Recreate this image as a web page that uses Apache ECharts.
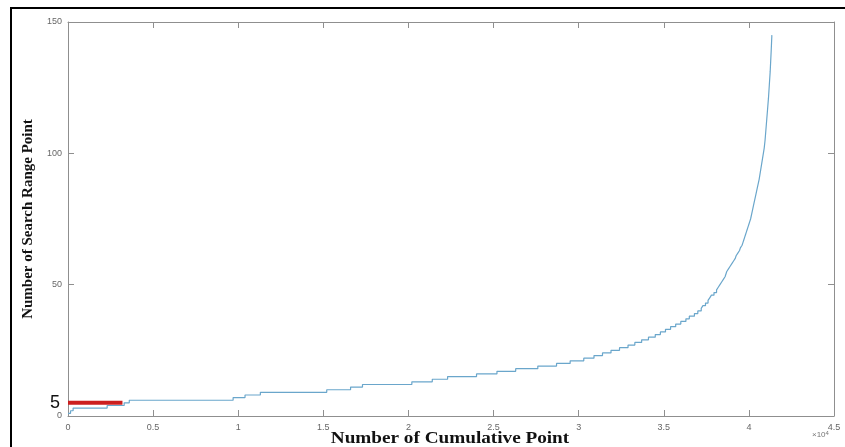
<!DOCTYPE html>
<html>
<head>
<meta charset="utf-8">
<script src="https://cdn.jsdelivr.net/npm/echarts@6/dist/echarts.min.js"></script>
<style>
  html, body { margin: 0; padding: 0; background: #fff; }
  #chart { width: 845px; height: 447px; }
</style>
</head>
<body>
<div id="chart"></div>
<script>
// cumulative point count (raw) where the search range steps up
const cumPoints = [0, 150, 300, 2300, 3300, 3600, 9700, 10400, 11300, 15200, 16600, 17300,
  20200, 21400, 22300, 24000, 25200, 26300, 27600, 28700, 29500, 30300, 30900, 31400,
  31900, 32400, 32900, 33300, 33700, 34100, 34500, 34800, 35100, 35400, 35700, 36000,
  36300, 36500, 36800, 37000, 37200, 37300, 37450, 37600, 37700, 37800, 37950, 38100,
  38200, 38300, 38400, 38500, 38600, 38700, 38800, 38900, 39000, 39100, 39200, 39250,
  39350, 39450, 39500, 39600, 39650, 39700, 39750, 39800, 39850, 39900, 39950, 40000,
  40050, 40100, 40200, 40300, 40400, 40500, 40600, 40700, 40800, 40900, 40950, 41000,
  41050, 41100, 41150, 41200, 41250, 41280, 41310, 41330, 41350];
// search range value from that point on
const searchRange = [1, 2, 3, 4, 5, 6, 7, 8, 9, 10, 11, 12,
  13, 14, 15, 16, 17, 18, 19, 20, 21, 22, 23, 24,
  25, 26, 27, 28, 29, 30, 31, 32, 33, 34, 35, 36,
  37, 38, 39, 40, 41, 42, 43, 44, 45, 46, 47, 48,
  49, 50, 51, 52, 53, 55, 56, 57, 58, 59, 60, 61,
  62, 63, 64, 65, 66, 67, 68, 69, 70, 71, 72, 73,
  74, 75, 78, 81, 84, 87, 90, 94, 98, 102, 105, 109,
  113, 117, 121, 126, 131, 135, 139, 142, 145];
// red highlight at range 5
const redX = [0, 3200];
const redY = [5, 5];
const xTicks = [0, 0.5, 1, 1.5, 2, 2.5, 3, 3.5, 4, 4.5];
const yTicks = [0, 50, 100, 150];

const chart = echarts.init(document.getElementById('chart'));

const axisGray = '#8f8f8f';
const labelStyle = { color: '#666', fontSize: 9, fontFamily: 'Liberation Sans' };
const titleFont = { fontFamily: 'Liberation Serif', fontWeight: 'bold', fontSize: 15, color: '#111' };

chart.setOption({
  animation: false,
  grid: { left: 68, right: 11, top: 22, bottom: 31, outerBoundsMode: 'none' },
  xAxis: [{
    type: 'value', min: 0, max: 45000, interval: 5000,
    axisLine: { show: true, onZero: false, lineStyle: { color: axisGray, width: 1 } },
    axisTick: { show: true, inside: true, length: 6, lineStyle: { color: axisGray } },
    axisLabel: Object.assign({ margin: 7, formatter: v => String(v / 10000) }, labelStyle),
    splitLine: { show: false }
  }, {
    type: 'value', position: 'top', min: 0, max: 45000, interval: 5000,
    axisLine: { show: true, onZero: false, lineStyle: { color: axisGray, width: 1 } },
    axisTick: { show: true, inside: true, length: 6, lineStyle: { color: axisGray } },
    axisLabel: { show: false }, splitLine: { show: false }
  }],
  yAxis: [{
    type: 'value', min: 0, max: 150, interval: 50,
    axisLine: { show: true, onZero: false, lineStyle: { color: axisGray, width: 1 } },
    axisTick: { show: true, inside: true, length: 6, lineStyle: { color: axisGray } },
    axisLabel: Object.assign({ margin: 6 }, labelStyle),
    splitLine: { show: false },
    name: 'Number of Search Range Point', nameLocation: 'middle', nameGap: 32,
    nameTextStyle: titleFont
  }, {
    type: 'value', position: 'right', min: 0, max: 150, interval: 50,
    axisLine: { show: true, onZero: false, lineStyle: { color: axisGray, width: 1 } },
    axisTick: { show: true, inside: true, length: 6, lineStyle: { color: axisGray } },
    axisLabel: { show: false }, splitLine: { show: false }
  }],
  series: [{
    type: 'line', step: 'end', showSymbol: false,
    data: cumPoints.map((x, i) => [x, searchRange[i]]),
    lineStyle: { color: '#6aa6cb', width: 1.2 }
  }, {
    type: 'line', showSymbol: false,
    data: redX.map((x, i) => [x, redY[i]]),
    lineStyle: { color: '#cc1f1f', width: 4 },
    markPoint: {
      symbolSize: 0,
      data: [{ coord: [redX[0], redY[0]] }],
      label: { show: true, position: 'left', distance: 8, formatter: '5',
        color: '#111', fontSize: 18, fontFamily: 'Liberation Sans' }
    }
  }],
  graphic: [{
    type: 'rect', shape: { x: 11, y: 8, width: 840, height: 450 },
    style: { fill: 'none', stroke: '#000', lineWidth: 2 }, silent: true
  }, {
    // x axis title, stretched like the original figure
    type: 'text', x: 450, y: 439, scaleX: 1.2, originX: 0, originY: 0,
    style: { text: 'Number of Cumulative Point', align: 'center', verticalAlign: 'middle',
      fill: '#111', fontSize: 16, fontWeight: 'bold', fontFamily: 'Liberation Serif' }
  }, {
    type: 'text', left: 812, top: 430,
    style: { text: '×10{s|4}', fill: '#777', fontSize: 8, fontFamily: 'Liberation Sans',
      rich: { s: { fontSize: 6, verticalAlign: 'top', padding: [0, 0, 4, 0] } } }
  }]
});
</script>
</body>
</html>
